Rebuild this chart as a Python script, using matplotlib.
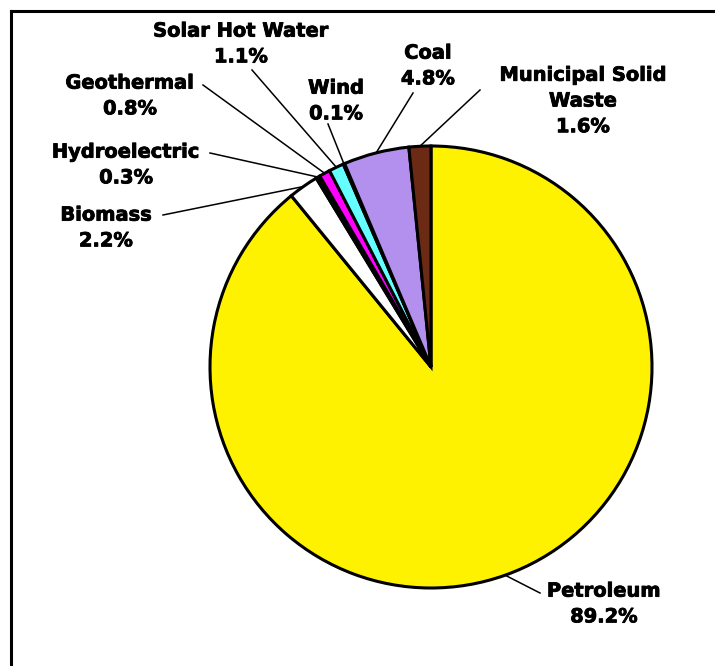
import numpy as np
import matplotlib.pyplot as plt
import matplotlib.patheffects as pe
from matplotlib.lines import Line2D

# Energy sources and their shares (%)
sources = ['Petroleum', 'Biomass', 'Hydroelectric', 'Geothermal',
           'Solar Hot Water', 'Wind', 'Coal', 'Municipal Solid\nWaste']
shares = [89.2, 2.2, 0.3, 0.8, 1.1, 0.1, 4.8, 1.6]
colors = ['#FFF200', '#FFFFFF', '#000000', '#FF00FF',
          '#66FFFF', '#000080', '#B38FEE', '#6B2A14']

# label text centres and leader-line start points, in pixels from top-left
label_pos = [(604, 604), (106, 228), (126, 165), (130, 96),
             (241, 44), (336, 101), (428, 66), (583, 101)]
leader_start = [(540, 593), (163, 215), (210, 153), (203, 85),
                (252, 70), (328, 124), (413, 93), (480, 90)]

W, H = 715, 666
fig = plt.figure(figsize=(W / 100, H / 100), dpi=100)
ax = fig.add_axes([0, 0, 1, 1])

cx, cy, r = 431, H - 367, 221
wedges, _ = ax.pie(shares, colors=colors, startangle=90, counterclock=False,
                   center=(cx, cy), radius=r, frame=True,
                   wedgeprops=dict(edgecolor='black', linewidth=2.2))
ax.set_xlim(0, W)
ax.set_ylim(0, H)
ax.set_aspect('equal')
ax.axis('off')

for w, name, val, (tx, ty), (lx, ly) in zip(wedges, sources, shares, label_pos, leader_start):
    mid = np.deg2rad((w.theta1 + w.theta2) / 2)
    ex, ey = cx + r * np.cos(mid), cy + r * np.sin(mid)
    ax.plot([lx, ex], [H - ly, ey], color='black', linewidth=1.1, zorder=0.5)
    ax.text(tx, H - ty, f'{name}\n{val}%', ha='center', va='center',
            multialignment='center', fontsize=14, fontweight='bold',
            family='DejaVu Sans', linespacing=1.45,
            path_effects=[pe.withStroke(linewidth=0.6, foreground='black')])

# outer frame, open past the right and bottom edges
fig.add_artist(Line2D([11 / W, 11 / W], [0, 1 - 11 / H], color='black', linewidth=2.2))
fig.add_artist(Line2D([11 / W, 1], [1 - 11 / H, 1 - 11 / H], color='black', linewidth=2.2))

fig.savefig('out.png', dpi=100, facecolor='white')
